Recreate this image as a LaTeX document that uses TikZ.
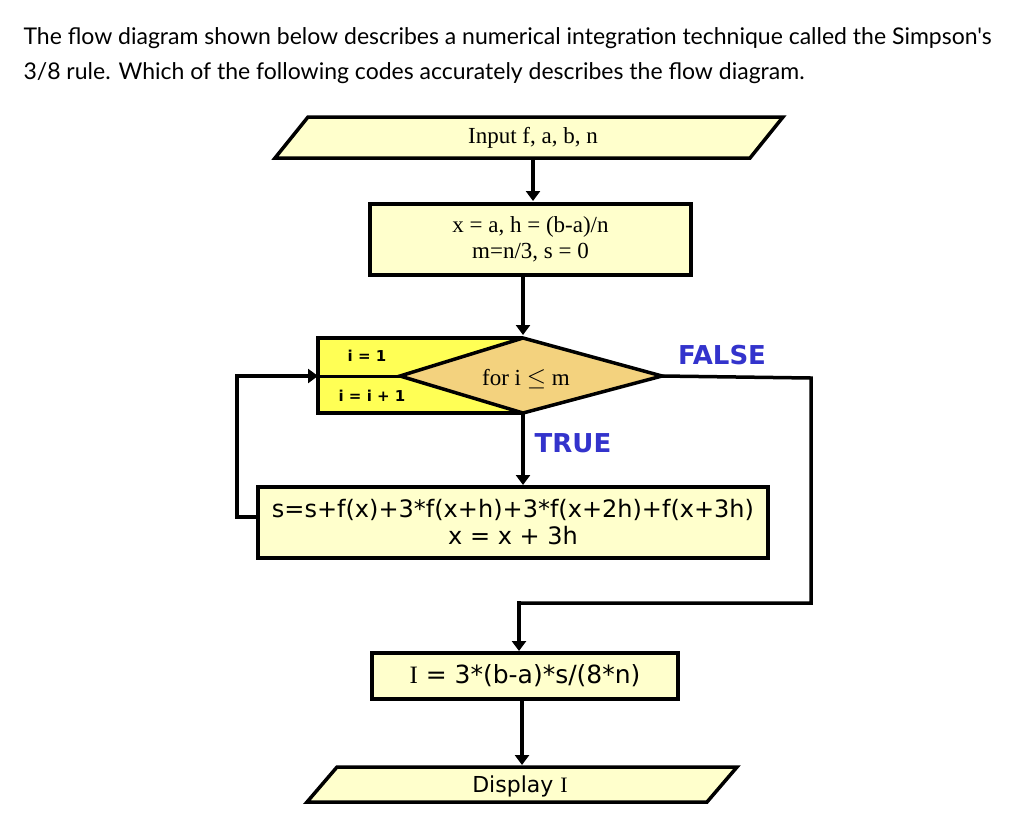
\documentclass[tikz,border=0pt]{standalone}
\usepackage{fontspec}
\setmainfont{Liberation Serif}
\newfontfamily\lato{Lato}
\newfontfamily\dv{DejaVu Sans}
\usetikzlibrary{arrows.meta}
\definecolor{pale}{HTML}{FFFFCC}
\definecolor{yel}{HTML}{FFFF55}
\definecolor{dia}{HTML}{F3D27E}
\definecolor{lbl}{HTML}{3333CC}
\begin{document}
\begin{tikzpicture}[x=1pt,y=-1pt,
  shp/.style={draw=black,line width=3.5pt,line join=miter},
  conn/.style={line width=3.5pt,-{Triangle[length=10pt,width=14pt]}},
  ln/.style={line width=3.5pt},
  lab/.style={text=lbl,font=\dv\bfseries\fontsize{26}{28}\selectfont}]
\useasboundingbox (0,0) rectangle (1024,836);
\node[anchor=west,font=\lato\fontsize{23}{26}\selectfont] (q1) at (20,38) {The flow diagram shown below describes a numerical integration technique called the Simpson's};
\node[anchor=west,font=\lato\fontsize{23}{26}\selectfont] (q2) at (20,73) {3/8 rule. Which of the following codes accurately describes the flow diagram.};
% input
\draw[shp,fill=pale] (308,117) -- (783,117) -- (750,158) -- (275,158) -- cycle;
\node[font=\fontsize{23}{24}\selectfont] (in) at (533,138) {Input f, a, b, n};
\coordinate (inb) at (533,158);
% init box
\node[shp,fill=pale,minimum width=321pt,minimum height=71pt,inner sep=0pt,align=center,font=\fontsize{23}{26}\selectfont] (init) at (530.5,239.5) {x = a, h = (b-a)/n\\m=n/3, s = 0};
\draw[conn] (inb) -- (533,201);
% loop
\draw[shp,fill=yel] (523,338) -- (318,338) -- (318,413) -- (523,413);
\draw[line width=3pt] (318,376) -- (420,376);
\node[font=\dv\bfseries\fontsize{15}{16}\selectfont] (i1) at (367,356) {i = 1};
\node[font=\dv\bfseries\fontsize{15}{16}\selectfont] (i2) at (372,396) {i = i + 1};
\draw[shp,fill=dia] (523,338) -- (662,376) -- (523,413) -- (400,376) -- cycle;
\node[font=\fontsize{23}{24}\selectfont] (cond) at (526,379) {for i $\leq$ m};
\coordinate (dtop) at (523,338);
\coordinate (dbot) at (523,413);
\coordinate (dright) at (662,376);
\draw[conn] (init.south -| dtop) -- (523,335);
\node[lab] (f) at (722,355) {FALSE};
\node[lab] (t) at (573,443) {TRUE};
% body
\node[shp,fill=pale,minimum width=510pt,minimum height=71pt,inner sep=0pt,align=center,font=\dv\fontsize{24}{27}\selectfont] (body) at (513,522.5) {s=s+f(x)+3*f(x+h)+3*f(x+2h)+f(x+3h)\\x = x + 3h};
\draw[conn] (dbot) -- (523,485);
\draw[ln] (body.west |- 0,517) -- (237,517) -- (237,376) -- (300,376);
\draw[conn] (236,376) -- (318,376);
% result
\node[shp,fill=pale,minimum width=306pt,minimum height=46pt,inner sep=0pt,font=\dv\fontsize{25}{26}\selectfont] (res) at (525,676) {{\fontspec{Liberation Serif}I} = 3*(b-a)*s/(8*n)};
\draw[ln] (dright) -- (811,378) -- (811,603) -- (519,603);
\draw[conn] (519,601) -- (519,651);
% display
\draw[shp,fill=pale] (337,767) -- (737,767) -- (707,802) -- (307,802) -- cycle;
\node[font=\dv\fontsize{22}{24}\selectfont] (disp) at (520,786) {Display {\fontspec{Liberation Serif}I}};
\draw[conn] (res.south -| 0,0) ++(522,0) -- (522,765);
\end{tikzpicture}
\end{document}
